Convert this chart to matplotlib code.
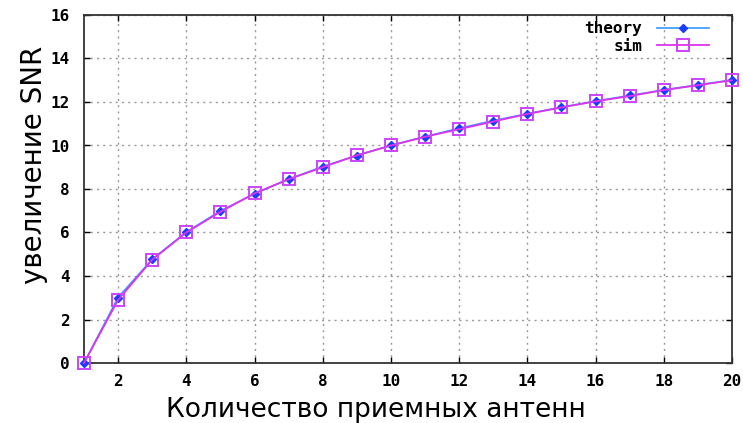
import matplotlib
matplotlib.use("Agg")
import matplotlib.pyplot as plt

antennas = list(range(1, 21))
theory = [0.0, 3.01, 4.77, 6.02, 6.99, 7.78, 8.45, 9.03, 9.54, 10.0,
          10.41, 10.79, 11.14, 11.46, 11.76, 12.04, 12.30, 12.55, 12.79, 13.01]
sim = [0.0, 2.9, 4.75, 6.0, 6.95, 7.8, 8.45, 9.0, 9.55, 10.0,
       10.4, 10.75, 11.1, 11.45, 11.75, 12.03, 12.27, 12.55, 12.77, 13.0]

xticks = list(range(2, 21, 2))
yticks = list(range(0, 17, 2))

tick_font = {"family": "DejaVu Sans Mono", "weight": "bold", "size": 11.5}

fig = plt.figure(figsize=(7.43, 4.23), dpi=100)
ax = fig.add_axes([84 / 743, 60 / 423, 648 / 743, 348 / 423])

ax.plot(antennas, theory, color="#3399ff", lw=1.2, marker="D", markersize=4.5,
        markerfacecolor="#1a3cff", markeredgecolor="#1a3cff", label="theory",
        clip_on=False, zorder=3)
ax.plot(antennas, sim, color="#dd33ee", lw=1.3, marker="s", markersize=8,
        markerfacecolor="none", markeredgecolor="#cc44ff", markeredgewidth=1.4,
        label="sim", clip_on=False, zorder=4)

ax.set_xlim(1, 20)
ax.set_ylim(0, 16)
ax.set_xticks(xticks)
ax.set_yticks(yticks)
ax.set_xticklabels([str(v) for v in xticks], fontdict=tick_font)
ax.set_yticklabels([str(v) for v in yticks], fontdict=tick_font)
ax.tick_params(direction="in", length=4, width=1, top=True, right=True)
ax.tick_params(axis="y", pad=10)
ax.tick_params(axis="x", pad=8)
ax.grid(True, color="#999999", linestyle=(0, (1.5, 3)), linewidth=1)
for s in ax.spines.values():
    s.set_linewidth(1.3)
    s.set_color("#333333")

ax.set_xlabel("Количество приемных антенн", fontsize=19, family="DejaVu Sans", labelpad=6)
ax.set_ylabel("увеличение SNR", fontsize=20, family="DejaVu Sans", labelpad=2)
ax.xaxis.label.set_x(0.45)
ax.yaxis.label.set_y(0.57)

ax.legend(loc="upper right", bbox_to_anchor=(0.975, 1.0), frameon=False, markerfirst=False,
          prop={"family": "DejaVu Sans Mono", "weight": "bold", "size": 11.5},
          handlelength=3.3, handletextpad=0.9, borderaxespad=0.2,
          borderpad=0.2, labelspacing=0.15)

fig.savefig("out.png", dpi=100)
